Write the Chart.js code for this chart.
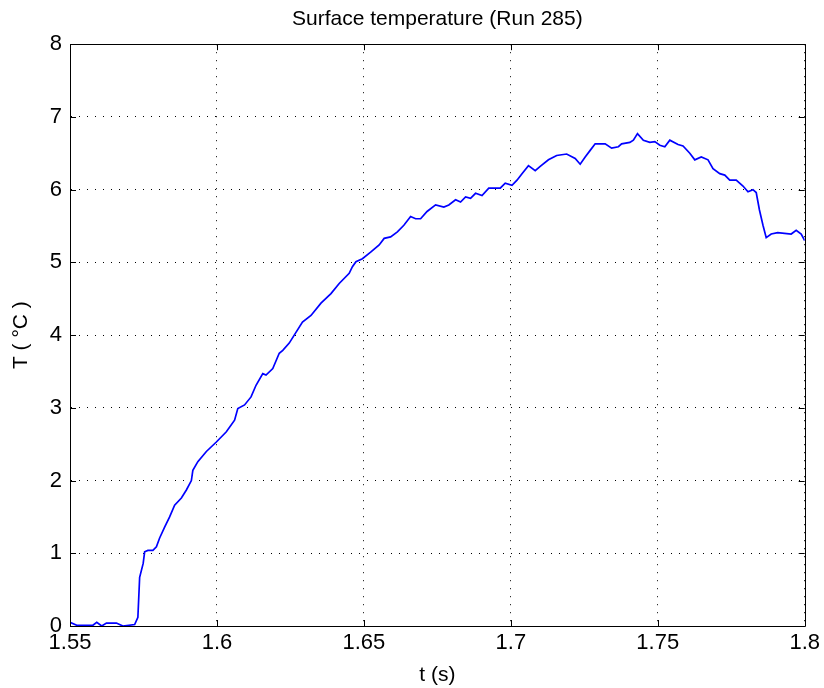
<!DOCTYPE html>
<html>
<head>
<meta charset="utf-8">
<script src="https://cdn.jsdelivr.net/npm/chart.js@4.4.0/dist/chart.umd.min.js"></script>
<style>
  html, body { margin: 0; padding: 0; background: #ffffff; }
  #wrap { width: 824px; height: 688px; }
</style>
</head>
<body>
<div id="wrap">
  <canvas id="surface-temp-chart" width="824" height="688"></canvas>
</div>
<script>
// time (s)
var timeValues = [
  1.5500, 1.5523, 1.5578, 1.5591, 1.5608, 1.5624, 1.5658, 1.5680, 1.5720, 1.5731,
  1.5737, 1.5749, 1.5754, 1.5765, 1.5782, 1.5794, 1.5805, 1.5822, 1.5839, 1.5856,
  1.5879, 1.5896, 1.5913, 1.5918, 1.5935, 1.5964, 1.5998, 1.6032, 1.6060, 1.6071,
  1.6094, 1.6116, 1.6133, 1.6156, 1.6167, 1.6190, 1.6212, 1.6224, 1.6246, 1.6263,
  1.6291, 1.6320, 1.6354, 1.6388, 1.6416, 1.6450, 1.6461, 1.6473, 1.6495, 1.6523,
  1.6552, 1.6569, 1.6591, 1.6614, 1.6636, 1.6659, 1.6676, 1.6693, 1.6715, 1.6744,
  1.6772, 1.6789, 1.6812, 1.6829, 1.6846, 1.6863, 1.6880, 1.6902, 1.6925, 1.6947,
  1.6964, 1.6981, 1.7004, 1.7021, 1.7038, 1.7060, 1.7083, 1.7100, 1.7128, 1.7156,
  1.7190, 1.7219, 1.7236, 1.7253, 1.7270, 1.7287, 1.7309, 1.7321, 1.7343, 1.7366,
  1.7377, 1.7405, 1.7417, 1.7431, 1.7451, 1.7473, 1.7490, 1.7507, 1.7524, 1.7541,
  1.7569, 1.7586, 1.7609, 1.7626, 1.7648, 1.7671, 1.7688, 1.7711, 1.7728, 1.7745,
  1.7767, 1.7790, 1.7807, 1.7824, 1.7835, 1.7846, 1.7858, 1.7869, 1.7886, 1.7908,
  1.7954, 1.7971, 1.7988, 1.8000
];

// surface temperature (degC)
var tempValues = [
  0.05, 0.01, 0.01, 0.05, 0.00, 0.04, 0.04, 0.00, 0.02, 0.12,
  0.67, 0.86, 1.02, 1.04, 1.04, 1.09, 1.21, 1.36, 1.50, 1.66,
  1.76, 1.87, 2.00, 2.14, 2.26, 2.40, 2.53, 2.67, 2.83, 2.99,
  3.04, 3.15, 3.31, 3.47, 3.45, 3.54, 3.75, 3.79, 3.89, 4.00,
  4.18, 4.27, 4.44, 4.57, 4.71, 4.85, 4.94, 5.01, 5.05, 5.14,
  5.24, 5.33, 5.35, 5.42, 5.51, 5.63, 5.60, 5.60, 5.70, 5.79,
  5.76, 5.79, 5.86, 5.83, 5.90, 5.88, 5.95, 5.92, 6.02, 6.02,
  6.02, 6.09, 6.06, 6.13, 6.22, 6.33, 6.26, 6.32, 6.41, 6.47,
  6.49, 6.43, 6.35, 6.45, 6.54, 6.63, 6.63, 6.63, 6.57, 6.59,
  6.63, 6.65, 6.68, 6.77, 6.68, 6.65, 6.66, 6.61, 6.59, 6.68,
  6.62, 6.60, 6.50, 6.41, 6.45, 6.41, 6.29, 6.22, 6.20, 6.13,
  6.13, 6.05, 5.97, 6.00, 5.96, 5.72, 5.51, 5.34, 5.39, 5.41,
  5.39, 5.44, 5.39, 5.30
];

var xTicks = [1.55, 1.6, 1.65, 1.7, 1.75, 1.8];
var xTickLabels = ["1.55", "1.6", "1.65", "1.7", "1.75", "1.8"];
var yTicks = [0, 1, 2, 3, 4, 5, 6, 7, 8];
var yTickLabels = ["0", "1", "2", "3", "4", "5", "6", "7", "8"];

var tickFont = { family: "'Liberation Sans', Arial, sans-serif", size: 22 };
var labelFont = { family: "'Liberation Sans', Arial, sans-serif", size: 21 };

var points = timeValues.map(function (t, i) {
  return { x: t, y: tempValues[i] };
});

// box around the plot + inward tick marks (matlab style)
var boxPlugin = {
  id: "matlabBox",
  afterDraw: function (chart) {
    var ctx = chart.ctx;
    var a = chart.chartArea;
    var xs = chart.scales.x;
    var ys = chart.scales.y;
    var len = 6;
    ctx.save();
    ctx.strokeStyle = "#000000";
    ctx.lineWidth = 1;
    ctx.beginPath();
    ctx.rect(Math.round(a.left) + 0.5, Math.round(a.top) + 0.5,
      Math.round(a.right - a.left), Math.round(a.bottom - a.top));
    xTicks.forEach(function (v) {
      var px = Math.round(xs.getPixelForValue(v)) + 0.5;
      ctx.moveTo(px, a.bottom);
      ctx.lineTo(px, a.bottom - len);
      ctx.moveTo(px, a.top);
      ctx.lineTo(px, a.top + len);
    });
    yTicks.forEach(function (v) {
      var py = Math.round(ys.getPixelForValue(v)) + 0.5;
      ctx.moveTo(a.left, py);
      ctx.lineTo(a.left + len, py);
      ctx.moveTo(a.right, py);
      ctx.lineTo(a.right - len, py);
    });
    ctx.stroke();
    ctx.restore();
  }
};

var config = {
  type: "line",
  data: {
    datasets: [
      {
        label: "Surface temperature",
        data: points,
        borderColor: "#0000ff",
        borderWidth: 1.7,
        pointRadius: 0,
        fill: false,
        tension: 0,
      }
    ],
  },
  options: {
    responsive: false,
    animation: false,
    layout: {
      padding: { left: 0, right: 17, top: 0, bottom: 0 },
    },
    plugins: {
      legend: { display: false },
      tooltip: { enabled: false },
      title: {
        display: true,
        fullSize: false,
        text: "Surface temperature (Run 285)",
        color: "#000000",
        font: { family: labelFont.family, size: 21, weight: "normal" },
        padding: { top: 7, bottom: 12 },
      },
    },
    scales: {
      x: {
        type: "linear",
        min: 1.55,
        max: 1.8,
        afterFit: function (scale) { scale.height = 62; },
        afterBuildTicks: function (scale) {
          scale.ticks = xTicks.map(function (v) { return { value: v }; });
        },
        ticks: {
          color: "#000000",
          font: tickFont,
          padding: 4,
          maxRotation: 0,
          callback: function (value) {
            var i = xTicks.findIndex(function (v) { return Math.abs(v - value) < 1e-6; });
            return i >= 0 ? xTickLabels[i] : "";
          },
        },
        grid: {
          color: "#000000",
          lineWidth: 1,
          drawTicks: false,
        },
        border: { display: true, color: "#000000", dash: [1, 7] },
        title: {
          display: true,
          text: "t (s)",
          color: "#000000",
          font: labelFont,
          padding: { top: 0, bottom: 0 },
        },
      },
      y: {
        type: "linear",
        min: 0,
        max: 8,
        afterFit: function (scale) { scale.width = 70; },
        afterBuildTicks: function (scale) {
          scale.ticks = yTicks.map(function (v) { return { value: v }; });
        },
        ticks: {
          color: "#000000",
          font: tickFont,
          padding: 8,
          callback: function (value) {
            var i = yTicks.indexOf(value);
            return i >= 0 ? yTickLabels[i] : "";
          },
        },
        grid: {
          color: "#000000",
          lineWidth: 1,
          drawTicks: false,
        },
        border: { display: true, color: "#000000", dash: [1, 7] },
        title: {
          display: true,
          text: "T ( °C )",
          color: "#000000",
          font: labelFont,
          padding: { top: 9, bottom: 0 },
        },
      },
    },
  },
  plugins: [boxPlugin],
};

var ctx = document.getElementById("surface-temp-chart").getContext("2d");
window.surfaceChart = new Chart(ctx, config);
</script>
</body>
</html>
